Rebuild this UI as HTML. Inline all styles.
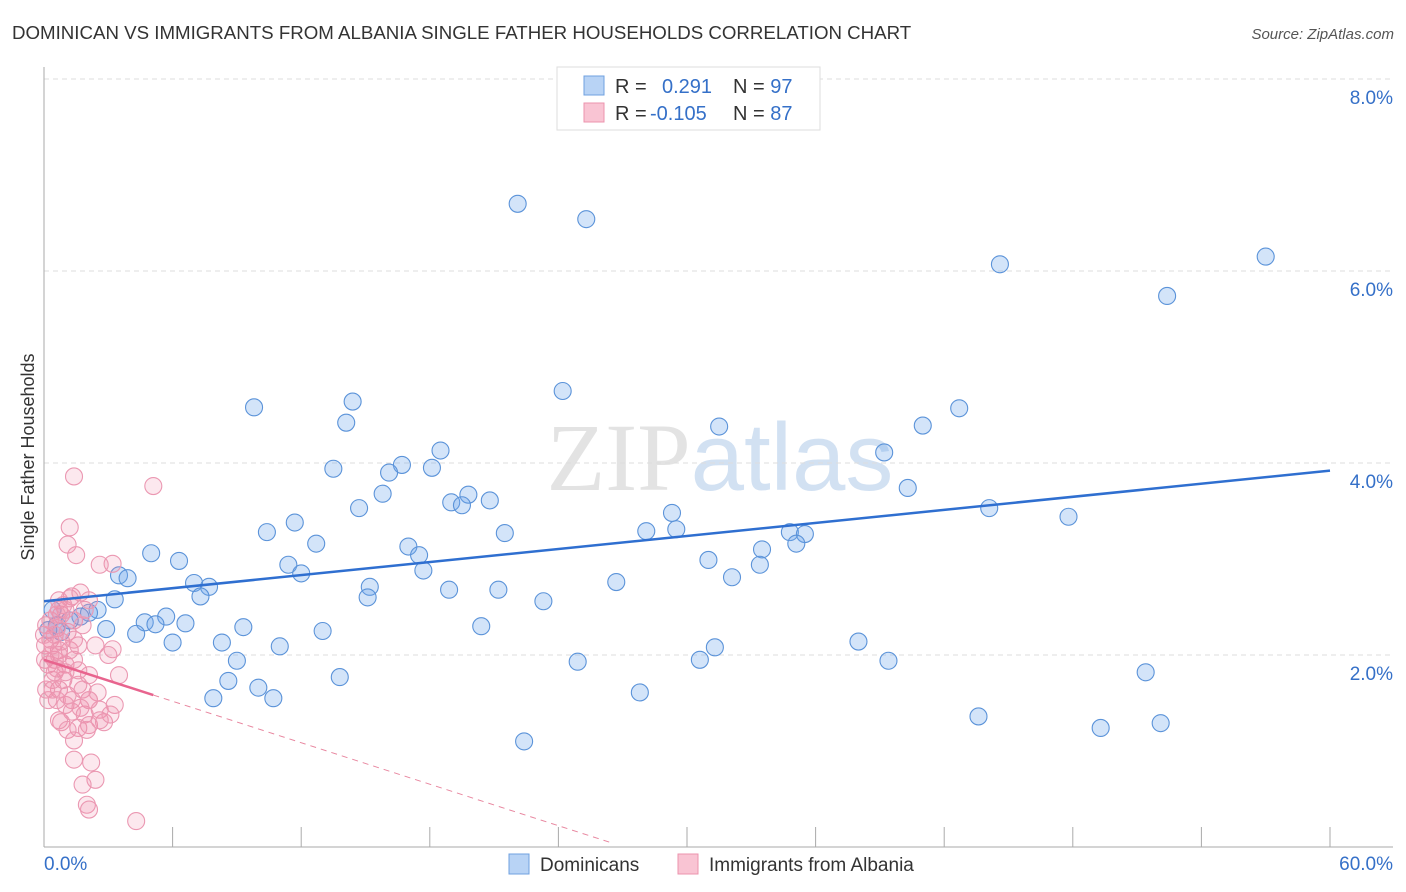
<!DOCTYPE html>
<html><head><meta charset="utf-8"><style>
body{margin:0;background:#fff;font-family:"Liberation Sans",sans-serif;}
svg{display:block}
</style></head><body>
<svg id="chart" width="1406" height="892" viewBox="0 0 1406 892" xmlns="http://www.w3.org/2000/svg">
<text x="12" y="39" font-size="18.7" fill="#333">DOMINICAN VS IMMIGRANTS FROM ALBANIA SINGLE FATHER HOUSEHOLDS CORRELATION CHART</text>
<text x="1394" y="39" font-size="15" fill="#555" text-anchor="end" font-style="italic">Source: ZipAtlas.com</text>
<text x="720" y="490" font-size="96" fill="#ddd" text-anchor="middle" font-family="Liberation Serif, serif" opacity="0.8">ZIP<tspan fill="#c8daf0" font-family="Liberation Sans, sans-serif">atlas</tspan></text>
<text transform="translate(34,457) rotate(-90)" font-size="18" fill="#333" text-anchor="middle">Single Father Households</text>
<g id="grid"></g><g id="axes"></g><g id="pts"></g><g id="trends"></g>
<g>
<rect x="557" y="67" width="263" height="63" fill="#fff" stroke="#ddd"/>
<rect x="584" y="76" width="20" height="19" fill="#b8d3f5" stroke="#6fa0e0"/>
<rect x="584" y="103" width="20" height="19" fill="#f9c4d3" stroke="#ec93ae"/>
<text x="615" y="93" font-size="20" fill="#333">R = <tspan fill="#3570c8" x="662">0.291</tspan><tspan fill="#333" x="733">N = </tspan><tspan fill="#3570c8">97</tspan></text>
<text x="615" y="120" font-size="20" fill="#333">R = <tspan fill="#3570c8" x="650">-0.105</tspan><tspan fill="#333" x="733">N = </tspan><tspan fill="#3570c8">87</tspan></text>
</g>
<g>
<rect x="509" y="854" width="20" height="20" fill="#b8d3f5" stroke="#6fa0e0"/>
<text x="540" y="871" font-size="19" fill="#333">Dominicans</text>
<rect x="678" y="854" width="20" height="20" fill="#f9c4d3" stroke="#ec93ae"/>
<text x="709" y="871" font-size="19" fill="#333">Immigrants from Albania</text>
</g>
</svg>
<script>
const yTicks=[2,4,6,8];
const yTickLabels=["2.0%","4.0%","6.0%","8.0%"];
const xEndLabels=["0.0%","60.0%"];
const blueX=[22.1,25.3,44.6,57.0,52.4,24.2,9.8,14.4,14.1,31.5,41.0,42.7,39.2,18.5,16.7,16.1,13.5,18.1,40.3,15.8,19.8,19.0,19.5,20.8,14.7,44.1,47.8,29.3,11.7,10.4,21.5,28.1,29.5,34.8,35.5,12.7,17.0,17.5,5.0,6.3,35.1,33.5,31.0,33.4,11.4,12.0,17.7,3.5,3.9,7.0,7.7,26.7,32.1,18.9,21.2,15.2,15.1,7.3,3.3,23.3,2.5,2.1,1.7,5.7,4.7,5.2,6.6,9.3,13.0,20.4,2.9,4.3,6.0,8.3,11.0,38.0,31.3,9.0,24.9,30.6,39.4,51.4,13.8,8.6,10.0,27.8,7.9,10.7,43.6,49.3,52.1,22.4,0.4,0.6,0.8,1.2,0.2];
const blueY=[6.70,6.54,6.07,6.15,5.74,4.75,4.58,4.64,4.42,4.38,4.39,4.57,4.11,4.13,3.98,3.90,3.94,3.95,3.74,3.68,3.67,3.59,3.56,3.61,3.53,3.53,3.44,3.48,3.38,3.28,3.27,3.29,3.31,3.28,3.26,3.16,3.13,3.04,3.06,2.98,3.16,3.10,2.99,2.94,2.94,2.85,2.88,2.83,2.80,2.75,2.71,2.76,2.81,2.68,2.68,2.71,2.60,2.61,2.58,2.56,2.47,2.44,2.40,2.40,2.34,2.32,2.33,2.29,2.25,2.30,2.27,2.22,2.13,2.13,2.09,2.14,2.08,1.94,1.93,1.95,1.94,1.82,1.77,1.73,1.66,1.61,1.55,1.55,1.36,1.24,1.29,1.10,2.47,2.31,2.24,2.36,2.26];
const pinkX=[1.4,5.1,1.2,1.1,1.5,1.3,1.7,3.2,2.6,1.9,2.1,0.8,0.6,0.3,0.7,1.2,1.6,2.4,3.2,0.5,1.0,1.4,3.5,2.1,1.6,0.7,1.3,2.1,0.6,1.0,1.3,1.9,2.6,3.3,0.8,1.6,2.1,2.8,1.4,2.2,2.4,1.8,2.0,2.1,4.3,0.2,0.4,0.05,0.3,0.7,1.0,0.5,0.8,1.1,1.4,0.2,0.5,0.9,1.6,0.7,1.1,1.4,0.7,0.4,0.1,0.05,1.1,1.8,2.5,2.0,0.4,0.7,1.4,1.8,2.1,1.2,0.9,0.6,0.1,1.0,1.7,2.6,3.0,3.1,0.3,0.6,0];
const pinkY=[3.86,3.76,3.33,3.15,3.04,2.61,2.65,2.95,2.94,2.47,2.57,2.42,2.28,2.16,2.05,2.05,2.10,2.10,2.06,1.95,1.90,1.95,1.79,1.79,1.69,1.64,1.53,1.53,1.53,1.48,1.41,1.38,1.43,1.48,1.30,1.24,1.27,1.30,0.91,0.88,0.70,0.65,0.44,0.39,0.27,1.53,1.74,1.95,2.36,2.57,2.47,2.21,2.14,2.24,2.36,1.90,1.82,1.74,1.84,1.32,1.22,1.11,2.00,2.10,2.31,2.10,1.58,1.64,1.61,1.22,1.64,2.47,2.16,2.31,1.53,2.59,2.52,1.86,1.64,1.82,1.45,1.32,2.00,1.38,2.00,2.42,2.21];
const blueTrend=[0,2.56,60,3.92];
const pinkTrend=[0,1.95,5.1,26.4];
const pinkSlope=-0.072;

const NS="http://www.w3.org/2000/svg";
const X0=44,X1=1330,Y0=847,PXY=96;
const sx=v=>X0+(X1-X0)*v/60;
const sy=v=>Y0-v*PXY;
function mk(tag,attrs,parent){const e=document.createElementNS(NS,tag);for(const k in attrs)e.setAttribute(k,attrs[k]);parent.appendChild(e);return e;}
const grid=document.getElementById('grid'),axes=document.getElementById('axes'),pts=document.getElementById('pts'),tr=document.getElementById('trends');
yTicks.forEach((t,i)=>{
 const l=mk('line',{x1:X0,x2:1393,y1:sy(t),y2:sy(t),stroke:'#ddd','stroke-dasharray':'5,4'},grid);
 
 
 const tx=mk('text',{x:1393,y:sy(t)+25,'font-size':19,fill:'#3570c8','text-anchor':'end'},axes);
 tx.textContent=yTickLabels[i];
 
 
});
const ya=mk('line',{x1:X0,x2:X0,y1:67,y2:Y0,stroke:'#aaa'},axes);


const xa=mk('line',{x1:X0,x2:1393,y1:Y0,y2:Y0,stroke:'#aaa'},axes);


for(let v=6;v<=60;v+=6){
 const t=mk('line',{x1:sx(v),x2:sx(v),y1:Y0-20,y2:Y0,stroke:'#aaa'},axes);
 
 
}
const xl0=mk('text',{x:44,y:870,'font-size':19,fill:'#3570c8'},axes);xl0.textContent=xEndLabels[0];


const xl1=mk('text',{x:1393,y:870,'font-size':19,fill:'#3570c8','text-anchor':'end'},axes);xl1.textContent=xEndLabels[1];


function dots(xs,ys,fill,stroke,name){xs.forEach((x,i)=>{
 const c=mk('circle',{cx:sx(x),cy:sy(ys[i]),r:8.5,fill:fill,stroke:stroke,'stroke-width':1.1},pts);
 
 
});}
dots(blueX,blueY,'rgba(110,165,235,0.3)','#5b93d9','dominicans-point');
dots(pinkX,pinkY,'rgba(242,140,170,0.2)','#eb98b2','albania-point');
const bl=mk('line',{x1:sx(blueTrend[0]),y1:sy(blueTrend[1]),x2:sx(blueTrend[2]),y2:sy(blueTrend[3]),stroke:'#2f6fd0','stroke-width':2.5},tr);


const py=x=>pinkTrend[1]+pinkSlope*x;
const ps=mk('line',{x1:sx(pinkTrend[0]),y1:sy(py(pinkTrend[0])),x2:sx(pinkTrend[2]),y2:sy(py(pinkTrend[2])),stroke:'#e8648e','stroke-width':2.5},tr);


const pd=mk('line',{x1:sx(pinkTrend[2]),y1:sy(py(pinkTrend[2])),x2:sx(pinkTrend[3]),y2:sy(py(pinkTrend[3])),stroke:'#e8869f','stroke-width':1,'stroke-dasharray':'6,5'},tr);


</script>
</body></html>
